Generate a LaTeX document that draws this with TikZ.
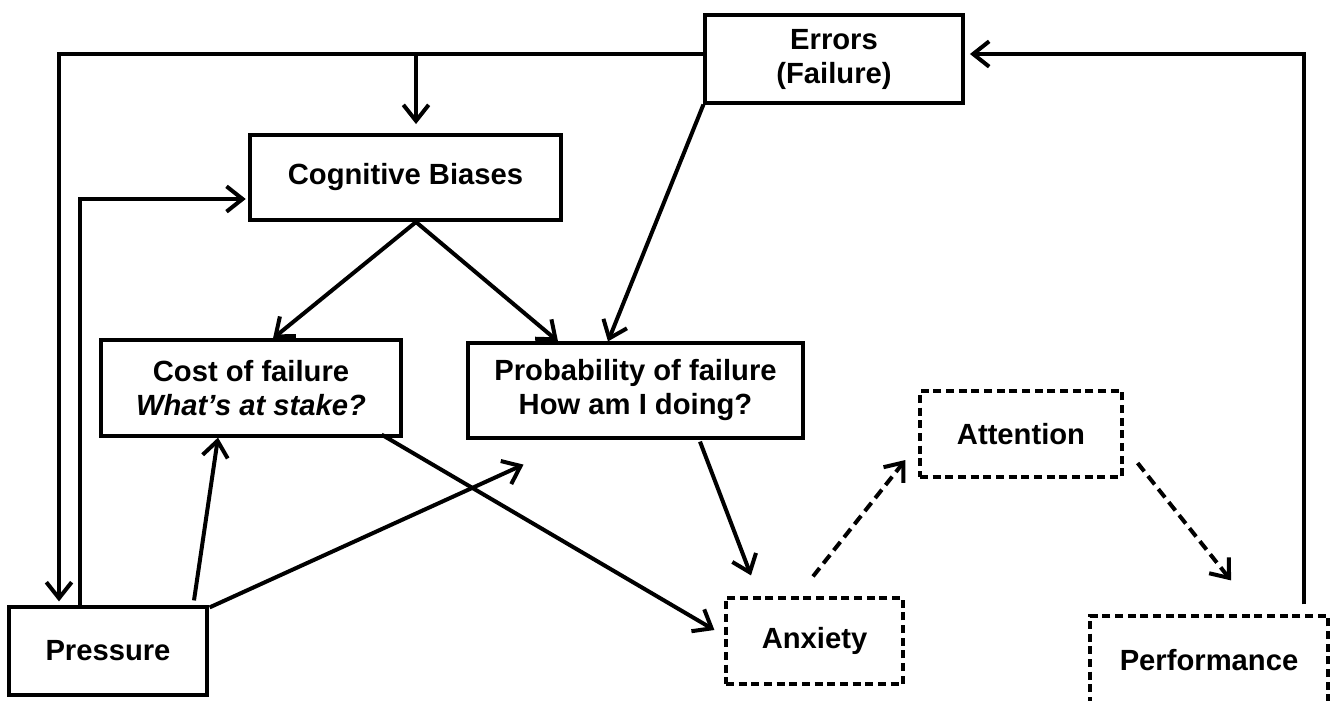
\documentclass[tikz,border=0pt]{standalone}
\usepackage{fontspec}
\setmainfont{Liberation Sans}
\usetikzlibrary{arrows.meta,calc}
\begin{document}
\begin{tikzpicture}[x=0.75pt,y=-0.75pt,
  box/.style={draw,line width=2.4pt,rectangle,inner sep=0pt,align=center,
    font=\fontsize{21.9pt}{25.5pt}\selectfont\bfseries},
  dbox/.style={box,line width=2.4pt,dash pattern=on 6pt off 3.5pt},
  arr/.style={line width=3pt,-{Straight Barb[length=12pt,width=19pt]}},
  darr/.style={arr,dash pattern=on 8pt off 4.5pt}]
\useasboundingbox (0,0) rectangle (1330,700);
% nodes
\node[box,minimum width=258*0.75pt,minimum height=88*0.75pt] (errors) at (834,59) {Errors\\(Failure)};
\node[box,minimum width=311*0.75pt,minimum height=85*0.75pt] (cb) at (405.5,177.5) {Cognitive Biases};
\node[box,minimum width=300*0.75pt,minimum height=96*0.75pt] (cost) at (251,388) {Cost of failure\\\itshape What’s at stake?};
\node[box,minimum width=335*0.75pt,minimum height=95*0.75pt] (prob) at (635.5,390.5) {Probability of failure\\How am I doing?};
\node[dbox,minimum width=202*0.75pt,minimum height=86*0.75pt] (attention) at (1021,434) {Attention};
\node[box,minimum width=198*0.75pt,minimum height=88*0.75pt] (pressure) at (108,651) {Pressure};
\node[dbox,minimum width=177*0.75pt,minimum height=86*0.75pt] (anxiety) at (814.5,641) {Anxiety};
\node[dbox,minimum width=238*0.75pt,minimum height=89*0.75pt] (perf) at (1209,660.5) {Performance};
% coordinates
\coordinate (tl) at (59,54);
\coordinate (j1) at (416,54);
\coordinate (p1) at (80,199);
\coordinate (tr) at (1304,54);
\coordinate (cbs) at (416,222);
% connectors
\draw[arr,shorten >=3pt] (tl -| errors.west) -- (tl) -- (tl |- pressure.north);
\draw[arr,shorten >=7pt] (j1) -- (j1 |- cb.north);
\draw[arr,shorten >=2pt] (p1 |- pressure.north) -- (p1) -- (p1 -| cb.west);
\draw[arr] (cbs) -- ($(cost.north)+(22,0)$);
\draw[arr] (cbs) -- ($(prob.north)+(-77.5,0)$);
\draw[arr] (errors.south west) -- ($(prob.north)+(-27.5,0)$);
\draw[arr] ($(pressure.north)+(86,-5)$) -- ($(cost.south)+(-33,0)$);
\draw[arr] ($(pressure.north east)+(1,2)$) -- ($(prob.south)+(-112,25)$);
\draw[arr] ($(cost.south east)+(-21,-3)$) -- ($(anxiety.west)+(-10,-11)$);
\draw[arr] ($(prob.south)+(64.5,2)$) -- ($(anxiety.north)+(-63.5,-21)$);
\draw[darr] ($(anxiety.north)+(-1.5,-20)$) -- ($(attention.west)+(-13,26)$);
\draw[darr] ($(attention.east)+(14,29)$) -- ($(perf.north)+(22,-34)$);
\draw[arr,shorten >=4pt] ($(perf.north)+(95,-10)$) -- (tr) -- (tr -| errors.east);
\end{tikzpicture}
\end{document}
